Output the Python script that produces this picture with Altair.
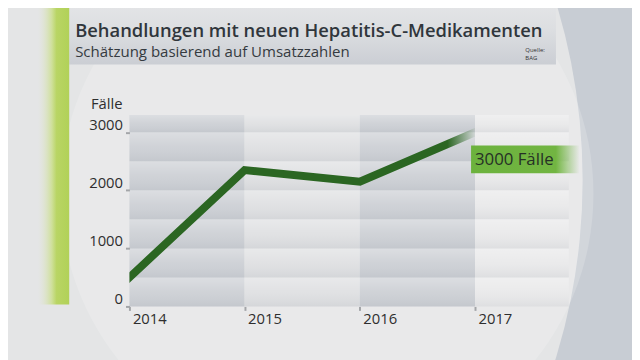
import altair as alt
import pandas as pd

# ---- data ----
years = [2014, 2015, 2016, 2017]
cases = [500, 2350, 2150, 3000]
y_ticks = [0, 1000, 2000, 3000]
col_start = [2014, 2015, 2016]
col_end = [2015, 2016, 2017]
col_shade = ["#cdd0d5", "#dfe0e2", "#cdd0d5"]
stripe_lo = [0, 500, 1000, 1500, 2000, 2500, 3000]
stripe_hi = [500, 1000, 1500, 2000, 2500, 3000, 3300]

title_txt = "Behandlungen mit neuen Hepatitis-C-Medikamenten"
subtitle_txt = "Schätzung basierend auf Umsatzzahlen"
label_txt = "3000 Fälle"

FONT = "Open Sans"
W, H = 350, 194

df = pd.DataFrame({"year": years, "cases": cases})
cols = pd.DataFrame({"x0": col_start, "x1": col_end, "shade": col_shade})
stripes = pd.DataFrame({"y0": stripe_lo, "y1": stripe_hi})
one = pd.DataFrame({"k": [0]})

xscale = alt.Scale(domain=[2014, 2017], nice=False, zero=False)
yscale = alt.Scale(domain=[0, 3300], nice=False)


def grad(stops, horizontal=True):
    return alt.LinearGradient(
        gradient="linear",
        stops=[alt.GradientStop(color=c, offset=o) for o, c in stops],
        x1=0, y1=0, x2=1 if horizontal else 0, y2=0 if horizontal else 1,
    )


bigcircle = alt.Chart(one).mark_point(
    shape="circle", filled=True, size=1226 ** 2, color="#e4e5e6", opacity=1, clip=False
).encode(x=alt.value(-154), y=alt.value(66))

innercircle = alt.Chart(one).mark_point(
    shape="circle", filled=True, size=540 ** 2, color="#ffffff", opacity=0.18, clip=False
).encode(x=alt.value(200), y=alt.value(80))

header = alt.Chart(one).mark_rect(
    clip=False,
    color=grad([(0, "#e4e5e7"), (0.45, "#dcdee1"), (1, "#cbced4")], horizontal=False),
).encode(x=alt.value(-61), x2=alt.value(432), y=alt.value(-114), y2=alt.value(-51))

greenbar = alt.Chart(one).mark_rect(
    clip=False,
    color=grad([(0, "rgba(225,228,215,0)"), (0.45, "#cfe09a"), (0.6, "#b9d564"), (1, "#b1d158")]),
).encode(x=alt.value(-93), x2=alt.value(-61), y=alt.value(-114), y2=alt.value(192))

columns = alt.Chart(cols).mark_rect().encode(
    x=alt.X("x0:Q", scale=xscale),
    x2="x1:Q",
    y=alt.value(0),
    y2=alt.value(H),
    color=alt.Color("shade:N", scale=None),
)

stripe_layer = alt.Chart(stripes).mark_rect(
    color=grad([(0, "rgba(255,255,255,0.30)"), (0.5, "rgba(255,255,255,0.05)"), (1, "rgba(90,100,115,0.08)")], horizontal=False)
).encode(
    x=alt.value(0),
    x2=alt.value(W + 95),
    y=alt.Y("y1:Q", scale=yscale),
    y2="y0:Q",
)

axis_common = dict(
    title=None, domain=False, grid=False, zindex=1,
    labelFontSize=15, labelFont=FONT, labelColor="#2e2e2e",
    tickSize=4, tickWidth=2, tickColor="#a3a5a8",
    labelOverlap=False, labelFlush=False, labelBound=False, format="d",
)

line = alt.Chart(df).mark_line(
    strokeWidth=8,
    strokeCap="square",
    strokeJoin="miter",
    clip=True,
    stroke=grad([(0, "#2b6622"), (0.92, "#2b6622"), (1, "rgba(43,102,34,0.05)")]),
).encode(
    x=alt.X(
        "year:Q",
        scale=xscale,
        axis=alt.Axis(values=years, labelAlign="left", labelPadding=1, labelOffset=3, **axis_common),
    ),
    y=alt.Y(
        "cases:Q",
        scale=yscale,
        axis=alt.Axis(values=y_ticks, labelBaseline="bottom", labelPadding=3, **axis_common),
    ),
)

labelbox = alt.Chart(one).mark_rect(
    clip=False,
    color=grad([(0, "#6cb23d"), (0.78, "#72b542"), (1, "rgba(120,185,75,0)")]),
).encode(x=alt.value(346), x2=alt.value(456), y=alt.value(31), y2=alt.value(59))

labeltext = alt.Chart(one).mark_text(
    text=label_txt, font=FONT, fontSize=17, fontWeight=500, color="#263026",
    align="left", baseline="alphabetic", clip=False
).encode(x=alt.value(350), y=alt.value(51))

title = alt.Chart(one).mark_text(
    text=title_txt, font=FONT, fontSize=18.6, fontWeight=600, color="#30363c",
    align="left", baseline="alphabetic", clip=False
).encode(x=alt.value(-55), y=alt.value(-79))

subtitle = alt.Chart(one).mark_text(
    text=subtitle_txt, font=FONT, fontSize=15.2, color="#353a40",
    align="left", baseline="alphabetic", clip=False
).encode(x=alt.value(-55), y=alt.value(-59))

source1 = alt.Chart(one).mark_text(
    text="Quelle:", font=FONT, fontSize=6, color="#333", align="left", baseline="alphabetic", clip=False
).encode(x=alt.value(401), y=alt.value(-64))
source2 = alt.Chart(one).mark_text(
    text="BAG", font=FONT, fontSize=6, color="#333", align="left", baseline="alphabetic", clip=False
).encode(x=alt.value(401), y=alt.value(-56))

unit = alt.Chart(one).mark_text(
    text="Fälle", font=FONT, fontSize=15, color="#2e2e2e", align="right", baseline="alphabetic", clip=False
).encode(x=alt.value(-7), y=alt.value(-6))

chart = alt.layer(
    bigcircle, innercircle, header, greenbar, columns, stripe_layer, line,
    labelbox, labeltext, title, subtitle, source1, source2, unit,
).properties(
    width=W, height=H, autosize="none",
    padding={"left": 123, "top": 106, "right": 159, "bottom": 52},
).configure(background="#c8cdd4").configure_view(stroke=None)

chart.save("out.html", embed_options={"renderer": "svg", "actions": False})
